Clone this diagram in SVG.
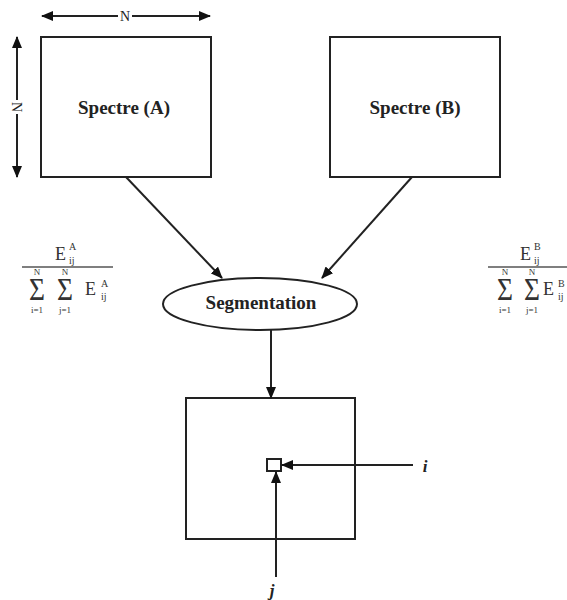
<svg xmlns="http://www.w3.org/2000/svg" width="567" height="600" viewBox="0 0 567 600">
<style>
.box{fill:#fff;stroke:#222;stroke-width:2}
.ln{fill:none;stroke:#222;stroke-width:2}
.lbl{font-family:"Liberation Serif",serif;font-weight:bold;font-size:19px;fill:#222;text-anchor:middle}
.n{font-family:"Liberation Serif",serif;font-size:14px;fill:#222;text-anchor:middle}
.f{font-family:"Liberation Serif",serif;fill:#333}
.fe{font-size:18px}
.fs{font-size:10px}
.fl{font-size:9px;text-anchor:middle}
.sig{font-size:31px}
.it{font-family:"Liberation Serif",serif;font-weight:bold;font-style:italic;font-size:17px;fill:#222;text-anchor:middle}
</style>
<defs>
<marker id="ah" viewBox="0 0 12 10" refX="11" refY="5" markerWidth="12" markerHeight="10" markerUnits="userSpaceOnUse" orient="auto-start-reverse">
<path d="M0,0 L12,5 L0,10 Z" fill="#111"/>
</marker>
</defs>
<g id="dimensions">
<line class="ln" x1="42" y1="16" x2="210" y2="16" marker-start="url(#ah)" marker-end="url(#ah)"/>
<rect x="118" y="8" width="14" height="16" fill="#fff"/>
<text class="n" x="125" y="21">N</text>
<line class="ln" x1="17" y1="37" x2="17" y2="177" marker-start="url(#ah)" marker-end="url(#ah)"/>
<rect x="9" y="100" width="16" height="14" fill="#fff"/>
<text class="n" x="0" y="0" transform="translate(12,107) rotate(90)">N</text>
</g>
<g id="spectreA">
<rect class="box" x="41" y="37" width="170" height="140"/>
<text class="lbl" x="124" y="114">Spectre (A)</text>
</g>
<g id="spectreB">
<rect class="box" x="330" y="37" width="170" height="140"/>
<text class="lbl" x="415" y="114">Spectre (B)</text>
</g>
<g id="segmentation">
<ellipse class="box" cx="260" cy="304" rx="97" ry="26"/>
<text class="lbl" x="261" y="309">Segmentation</text>
</g>
<g id="result">
<rect class="box" x="186" y="398" width="169" height="141"/>
<rect class="box" x="267" y="459" width="14" height="12"/>
</g>
<g id="connectors">
<line class="ln" x1="126" y1="177" x2="222" y2="278" marker-end="url(#ah)"/>
<line class="ln" x1="412" y1="177" x2="322" y2="278" marker-end="url(#ah)"/>
<line class="ln" x1="271" y1="330" x2="271" y2="398" marker-end="url(#ah)"/>
<line class="ln" x1="413" y1="465" x2="282" y2="465" marker-end="url(#ah)"/>
<line class="ln" x1="276" y1="577" x2="276" y2="472" marker-end="url(#ah)"/>
</g>
<g id="labels">
<text class="it" x="425" y="472">i</text>
<text class="it" x="272" y="596">j</text>
</g>
<g id="formulaA" class="f">
<text class="fe" x="55" y="260">E</text>
<text class="fs" x="69" y="250">A</text>
<text class="fs" x="69" y="264">ij</text>
<line x1="22" y1="267" x2="113" y2="267" stroke="#555" stroke-width="1.5"/>
<text class="sig" x="29" y="300" textLength="16" lengthAdjust="spacingAndGlyphs">Σ</text>
<text class="fl" x="37" y="275">N</text>
<text class="fl" x="37" y="313">i=1</text>
<text class="sig" x="57" y="300" textLength="16" lengthAdjust="spacingAndGlyphs">Σ</text>
<text class="fl" x="65" y="275">N</text>
<text class="fl" x="65" y="313">j=1</text>
<text class="fe" x="85" y="295">E</text>
<text class="fs" x="101" y="287">A</text>
<text class="fs" x="101" y="300">ij</text>
</g>
<g id="formulaB" class="f">
<text class="fe" x="520" y="260">E</text>
<text class="fs" x="534" y="250">B</text>
<text class="fs" x="534" y="264">ij</text>
<line x1="488" y1="267" x2="567" y2="267" stroke="#555" stroke-width="1.5"/>
<text class="sig" x="497" y="300" textLength="16" lengthAdjust="spacingAndGlyphs">Σ</text>
<text class="fl" x="505" y="275">N</text>
<text class="fl" x="505" y="313">i=1</text>
<text class="sig" x="524" y="300" textLength="16" lengthAdjust="spacingAndGlyphs">Σ</text>
<text class="fl" x="532" y="275">N</text>
<text class="fl" x="532" y="313">j=1</text>
<text class="fe" x="543" y="295">E</text>
<text class="fs" x="558" y="287">B</text>
<text class="fs" x="558" y="300">ij</text>
</g>
</svg>
